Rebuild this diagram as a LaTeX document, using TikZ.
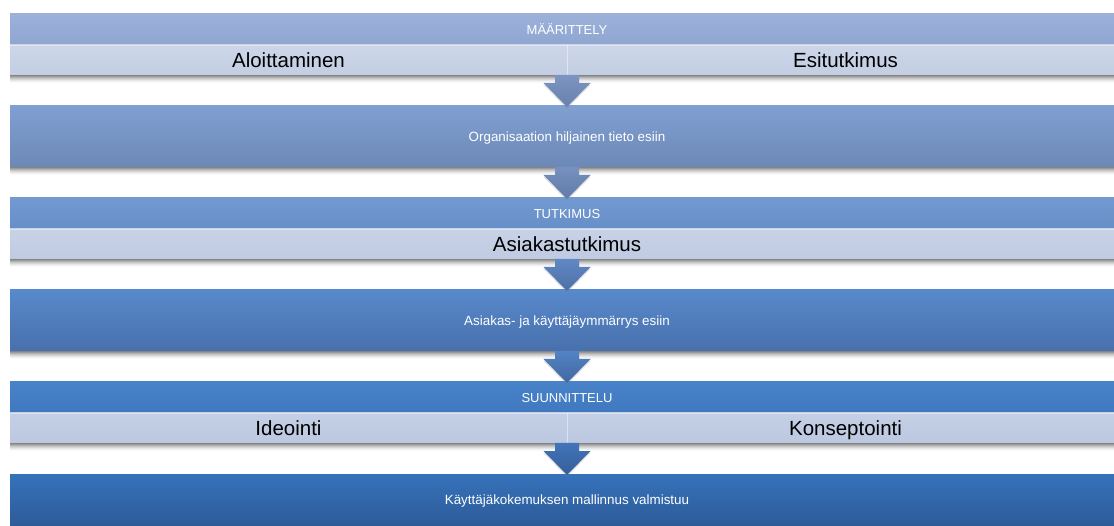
\documentclass[tikz,border=0pt]{standalone}
\usepackage{fontspec}
\setmainfont{Liberation Sans}
\usetikzlibrary{calc,shadows}
\definecolor{hAt}{HTML}{9CB1DA}\definecolor{hAb}{HTML}{8EA6D1}
\definecolor{sAt}{HTML}{CDD6E9}\definecolor{sAb}{HTML}{C3CEE3}
\definecolor{sBt}{HTML}{C8D2E7}\definecolor{sBb}{HTML}{BFCBE2}
\definecolor{sCt}{HTML}{C5D0E6}\definecolor{sCb}{HTML}{BBC8E0}
\definecolor{bBt}{HTML}{80A0D2}\definecolor{bBb}{HTML}{6C88B6}
\definecolor{hCt}{HTML}{729AD1}\definecolor{hCb}{HTML}{678FC7}
\definecolor{bDt}{HTML}{5889CC}\definecolor{bDb}{HTML}{4870AB}
\definecolor{hEt}{HTML}{4882C8}\definecolor{hEb}{HTML}{3F78BE}
\definecolor{bFt}{HTML}{3672BB}\definecolor{bFb}{HTML}{2D5B98}
\definecolor{a1t}{HTML}{7C95C2}\definecolor{a1b}{HTML}{6880AC}
\definecolor{a2t}{HTML}{7791C0}\definecolor{a2b}{HTML}{617AA6}
\definecolor{a3t}{HTML}{6088C4}\definecolor{a3b}{HTML}{4E6FA6}
\definecolor{a4t}{HTML}{5383C4}\definecolor{a4b}{HTML}{4267A1}
\definecolor{a5t}{HTML}{4274B8}\definecolor{a5b}{HTML}{345E9A}
\tikzset{
  base/.style={rectangle, inner sep=0pt, outer sep=0pt, anchor=north west, align=center},
  hdr/.style={base, minimum width=1114pt, minimum height=31pt, text=white,
    font=\fontsize{13}{15}\selectfont, text height=9.5pt, text depth=0pt},
  subrow/.style={base, minimum height=30pt, text=black,
    font=\fontsize{20.5}{24}\selectfont, text height=15pt, text depth=0pt},
  halfw/.style={minimum width=557pt},
  fullw/.style={minimum width=1114pt},
  bigbox/.style={base, minimum width=1114pt, minimum height=61pt, text=white,
    font=\fontsize{13.4}{16}\selectfont, text height=9.6pt, text depth=0pt},
  divider/.style={draw=white, draw opacity=0.45, line width=0.8pt},
  seam/.style={draw=white, draw opacity=0.4, line width=0.8pt},
  arrowshadow/.style={drop shadow={opacity=0.22, shadow xshift=0pt, shadow yshift=-2pt}}
}
\newcommand\rowshadow[2]{%
  \foreach \d/\o in {1/0.14,2/0.12,3/0.10,4/0.08,5/0.06,6/0.05,7/0.03,8/0.02}{%
    \fill[black, opacity=\o] (#1.south west) rectangle ($(#2.south east)+(0,\d)$);}}
\newcommand\blockarrow[4]{%
  \path[arrowshadow, top color=#3, bottom color=#4]
    ($(#1)+(-12,0)$) -- ($(#1)+(12,0)$) -- ($(#2.north)+(12,-23)$)
    -- ($(#2.north)+(23.5,-23)$) -- ($(#2.north)+(0,1)$)
    -- ($(#2.north)+(-23.5,-23)$) -- ($(#2.north)+(-12,-23)$) -- cycle;}
\begin{document}
\begin{tikzpicture}[x=1pt, y=-1pt]
\clip (0,0) rectangle (1114,526);
\fill[white] (0,0) rectangle (1114,526);
% row 1
\node[hdr, top color=hAt, bottom color=hAb] (h1) at (10,14) {MÄÄRITTELY};
\node[subrow, halfw, top color=sAt, bottom color=sAb] (s1a) at (10,45) {Aloittaminen};
\node[subrow, halfw, top color=sAt, bottom color=sAb] (s1b) at (567,45) {Esitutkimus};
% row 2
\node[bigbox, top color=bBt, bottom color=bBb] (b2) at (10,106) {Organisaation hiljainen tieto esiin};
% row 3
\node[hdr, top color=hCt, bottom color=hCb] (h3) at (10,198) {TUTKIMUS};
\node[subrow, fullw, top color=sBt, bottom color=sBb] (s3) at (10,229) {Asiakastutkimus};
% row 4
\node[bigbox, top color=bDt, bottom color=bDb] (b4) at (10,290) {Asiakas- ja käyttäjäymmärrys esiin};
% row 5
\node[hdr, top color=hEt, bottom color=hEb] (h5) at (10,382) {SUUNNITTELU};
\node[subrow, halfw, top color=sCt, bottom color=sCb] (s5a) at (10,413) {Ideointi};
\node[subrow, halfw, top color=sCt, bottom color=sCb] (s5b) at (567,413) {Konseptointi};
% row 6
\node[bigbox, minimum height=52pt, top color=bFt, bottom color=bFb] (b6) at (10,474) {Käyttäjäkokemuksen mallinnus valmistuu};
% seams and dividers
\draw[seam] ([yshift=-0.4pt]s1a.north west) -- ([yshift=-0.4pt]s1b.north east);
\draw[seam] ([yshift=-0.4pt]s3.north west) -- ([yshift=-0.4pt]s3.north east);
\draw[seam] ([yshift=-0.4pt]s5a.north west) -- ([yshift=-0.4pt]s5b.north east);
\draw[divider] (s1b.north west) -- (s1b.south west);
\draw[divider] (s5b.north west) -- (s5b.south west);
% shadows
\rowshadow{s1a}{s1b}
\rowshadow{b2}{b2}
\rowshadow{s3}{s3}
\rowshadow{b4}{b4}
\rowshadow{s5a}{s5b}
% arrows
\blockarrow{s1a.south east}{b2}{a1t}{a1b}
\blockarrow{b2.south}{h3}{a2t}{a2b}
\blockarrow{s3.south}{b4}{a3t}{a3b}
\blockarrow{b4.south}{h5}{a4t}{a4b}
\blockarrow{s5a.south east}{b6}{a5t}{a5b}
\end{tikzpicture}
\end{document}
